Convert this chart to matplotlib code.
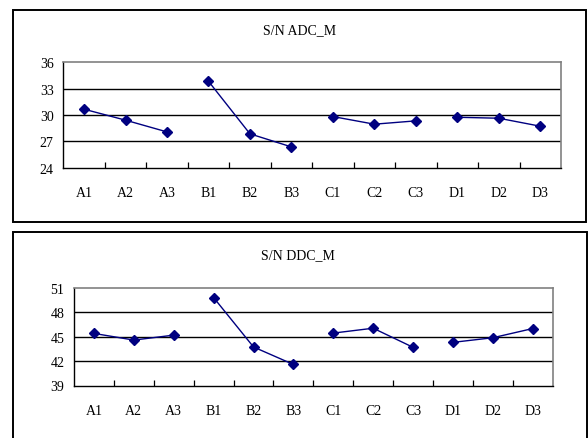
import matplotlib
matplotlib.use("Agg")
import matplotlib.pyplot as plt
from matplotlib.patches import Rectangle

categories = ["A1", "A2", "A3", "B1", "B2", "B3", "C1", "C2", "C3", "D1", "D2", "D3"]
adc_values = [30.65, 29.4, 28.06, 33.84, 27.84, 26.35, 29.81, 28.94, 29.32, 29.73, 29.62, 28.71]
ddc_values = [45.41, 44.59, 45.2, 49.82, 43.74, 41.59, 45.45, 46.05, 43.7, 44.31, 44.88, 46.01]
adc_ticks = [24, 27, 30, 33, 36]
ddc_ticks = [39, 42, 45, 48, 51]
group_size = 3

W, H = 588, 439
fig = plt.figure(figsize=(W / 100, H / 100), dpi=100)
fig.patch.set_facecolor("white")
plt.rcParams["font.family"] = ["Liberation Serif", "DejaVu Serif"]

def px_rect(x0, y0, x1, y1):
    return [x0 / W, 1 - y1 / H, (x1 - x0) / W, (y1 - y0) / H]

def frame(x0, y0, x1, y1):
    r = Rectangle((x0 / W, 1 - y1 / H), (x1 - x0) / W, (y1 - y0) / H,
                  transform=fig.transFigure, fill=False, edgecolor="black",
                  linewidth=1.4, zorder=0)
    fig.add_artist(r)

def panel(rect, values, ticks, title, title_xy):
    ax = fig.add_axes(px_rect(*rect))
    n = len(categories)
    for g in range(0, n, group_size):
        xs = list(range(g, g + group_size))
        ax.plot(xs, values[g:g + group_size], color="#000080", linewidth=1.0,
                marker="D", markersize=5.5, markerfacecolor="#000080",
                markeredgecolor="#000080", zorder=3)
    ax.set_xlim(-0.5, n - 0.5)
    ax.set_ylim(ticks[0], ticks[-1])
    ax.set_yticks(ticks)
    ax.set_yticklabels([str(t) for t in ticks], fontsize=10)
    ax.set_xticks(range(n))
    ax.set_xticklabels(categories, fontsize=10)
    ax.set_xticks([i + 0.5 for i in range(n - 1)], minor=True)
    ax.tick_params(axis="x", which="major", length=0, pad=13)
    ax.tick_params(axis="x", which="minor", direction="in", length=4, width=0.9, color="black")
    ax.tick_params(axis="y", length=0, pad=7)
    for t in ticks[1:-1]:
        ax.axhline(t, color="black", linewidth=1.0, zorder=1)
    for s in ("top", "right"):
        ax.spines[s].set_color("#808080")
        ax.spines[s].set_linewidth(1.2)
    for s in ("left", "bottom"):
        ax.spines[s].set_color("black")
        ax.spines[s].set_linewidth(1.0)
    fig.text(title_xy[0] / W, 1 - title_xy[1] / H, title, ha="center", va="center", fontsize=10)
    return ax

frame(12.7, 10.5, 585.5, 223)
frame(12.7, 232.5, 587, 441)

panel((63.3, 63.3, 561, 168.5), adc_values, adc_ticks, "S/N ADC_M", (300, 31))
panel((74, 289, 552.7, 386.5), ddc_values, ddc_ticks, "S/N DDC_M", (298, 256))

fig.savefig("out.png", dpi=100, facecolor="white")
